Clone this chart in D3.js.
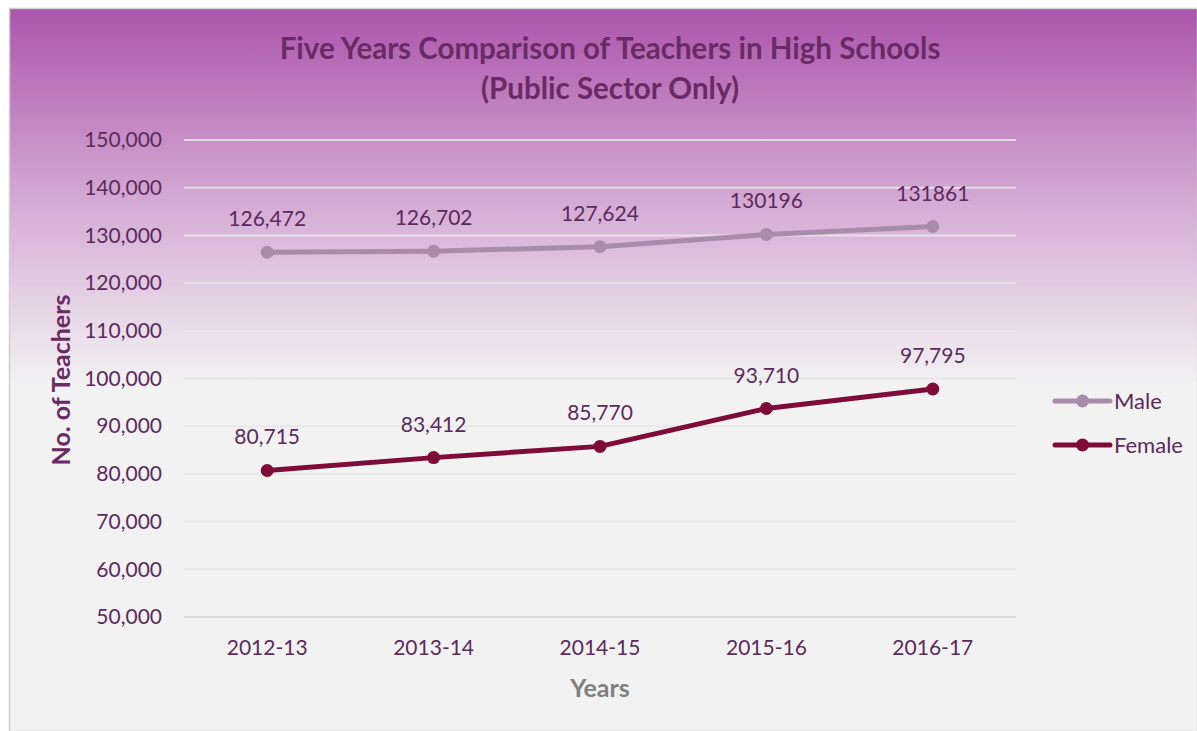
<!DOCTYPE html>
<html>
<head>
<meta charset="utf-8">
<script src="https://cdn.jsdelivr.net/npm/d3@7"></script>
<style>
  body { margin: 0; background: #fff; }
  text { font-family: Lato, "Open Sans", sans-serif; }
</style>
</head>
<body>
<script>
// chart data
const years = ["2012-13", "2013-14", "2014-15", "2015-16", "2016-17"];
const male = [126472, 126702, 127624, 130196, 131861];
const female = [80715, 83412, 85770, 93710, 97795];
const maleLabels = ["126,472", "126,702", "127,624", "130196", "131861"];
const femaleLabels = ["80,715", "83,412", "85,770", "93,710", "97,795"];
const yTicks = [50000, 60000, 70000, 80000, 90000, 100000, 110000, 120000, 130000, 140000, 150000];

const W = 1197, H = 731;
const svg = d3.select("body").append("svg")
    .attr("width", W)
    .attr("height", H);

let defs = svg.append("defs");
let grad = defs.append("linearGradient")
    .attr("id", "bg")
    .attr("x1", 0).attr("y1", 0).attr("x2", 0).attr("y2", 1);
grad.append("stop").attr("offset", "0%").attr("stop-color", "#ab55ab");
grad.append("stop").attr("offset", "28%").attr("stop-color", "#d6aed6");
grad.append("stop").attr("offset", "52%").attr("stop-color", "#f2f2f2");
grad.append("stop").attr("offset", "100%").attr("stop-color", "#f2f2f2");

// chart frame
svg.append("rect")
    .attr("x", 9.5).attr("y", 8.5)
    .attr("width", W - 9).attr("height", H - 8)
    .attr("fill", "url(#bg)")
    .attr("stroke", "#d0d0d0")
    .attr("stroke-width", 1.5);

const plotLeft = 184, plotRight = 1016, plotTop = 140, plotBottom = 617;

let x = d3.scaleBand().domain(years).range([plotLeft, plotRight]);
let y = d3.scaleLinear().domain([50000, 150000]).range([plotBottom, plotTop]);
let cx = d => x(d) + x.bandwidth() / 2;

// gridlines
svg.append("g").selectAll("line")
    .data(yTicks)
    .enter()
    .append("line")
    .attr("x1", plotLeft).attr("x2", plotRight)
    .attr("y1", d => y(d)).attr("y2", d => y(d))
    .attr("stroke", d => d === 50000 ? "#d9d9d9" : "#e6e6e6")
    .attr("stroke-opacity", 0.9)
    .attr("stroke-width", 2);

// y axis
let yAxis = svg.append("g")
    .attr("transform", "translate(" + (plotLeft - 22) + ",0)")
    .call(d3.axisLeft(y).tickValues(yTicks).tickFormat(d3.format(",")).tickSize(0).tickPadding(0));
yAxis.select(".domain").remove();
yAxis.selectAll("text")
    .attr("fill", "#5c2a5c")
    .style("font-size", "21px")
    .style("font-family", "Lato, sans-serif");

// x axis
let xAxis = svg.append("g")
    .attr("transform", "translate(0," + (plotBottom + 23) + ")")
    .call(d3.axisBottom(x).tickSize(0).tickPadding(0));
xAxis.select(".domain").remove();
xAxis.selectAll("text")
    .attr("dy", "0.71em")
    .attr("fill", "#5c2a5c")
    .style("font-size", "21px")
    .style("font-family", "Lato, sans-serif");

// titles
svg.append("text")
    .attr("x", 610).attr("y", 59)
    .attr("text-anchor", "middle")
    .attr("fill", "#6a2a66")
    .style("font-size", "29.5px")
    .style("font-weight", "bold")
    .text("Five Years Comparison of Teachers in High Schools");
svg.append("text")
    .attr("x", 610).attr("y", 99)
    .attr("text-anchor", "middle")
    .attr("fill", "#6a2a66")
    .style("font-size", "29.5px")
    .style("font-weight", "bold")
    .text("(Public Sector Only)");

svg.append("text")
    .attr("transform", "translate(70,380) rotate(-90)")
    .attr("text-anchor", "middle")
    .attr("fill", "#6a2a66")
    .style("font-size", "25px")
    .style("font-weight", "bold")
    .text("No. of Teachers");

svg.append("text")
    .attr("x", 600).attr("y", 697)
    .attr("text-anchor", "middle")
    .attr("fill", "#808080")
    .style("font-size", "25px")
    .style("font-weight", "bold")
    .text("Years");

// series
let series = [
    { name: "Male", values: male, labels: maleLabels, color: "#a98ca9" },
    { name: "Female", values: female, labels: femaleLabels, color: "#7e0b38" }
];

let line = d3.line()
    .x((d, i) => cx(years[i]))
    .y(d => y(d));

for (let s of series) {
    svg.append("path")
        .attr("d", line(s.values))
        .attr("fill", "none")
        .attr("stroke", s.color)
        .attr("stroke-width", 5)
        .attr("stroke-linejoin", "round");

    svg.append("g").selectAll("circle")
        .data(s.values)
        .enter()
        .append("circle")
        .attr("cx", (d, i) => cx(years[i]))
        .attr("cy", d => y(d))
        .attr("r", 6.5)
        .attr("fill", s.color);

    svg.append("g").selectAll("text")
        .data(s.values)
        .enter()
        .append("text")
        .attr("x", (d, i) => cx(years[i]))
        .attr("y", d => y(d) - 26)
        .attr("text-anchor", "middle")
        .attr("fill", "#5c2a5c")
        .style("font-size", "21px")
        .text((d, i) => s.labels[i]);
}

// legend
let legend = svg.append("g").selectAll("g")
    .data(series)
    .enter()
    .append("g")
    .attr("transform", (d, i) => "translate(1055," + (401 + i * 44) + ")");
legend.append("line")
    .attr("x1", 0).attr("x2", 55)
    .attr("stroke", d => d.color)
    .attr("stroke-width", 5)
    .attr("stroke-linecap", "round");
legend.append("circle")
    .attr("cx", 27.5).attr("r", 6.5)
    .attr("fill", d => d.color);
legend.append("text")
    .attr("x", 59).attr("dy", "0.35em")
    .attr("fill", "#5c2a5c")
    .style("font-size", "22px")
    .text(d => d.name);
</script>
</body>
</html>
